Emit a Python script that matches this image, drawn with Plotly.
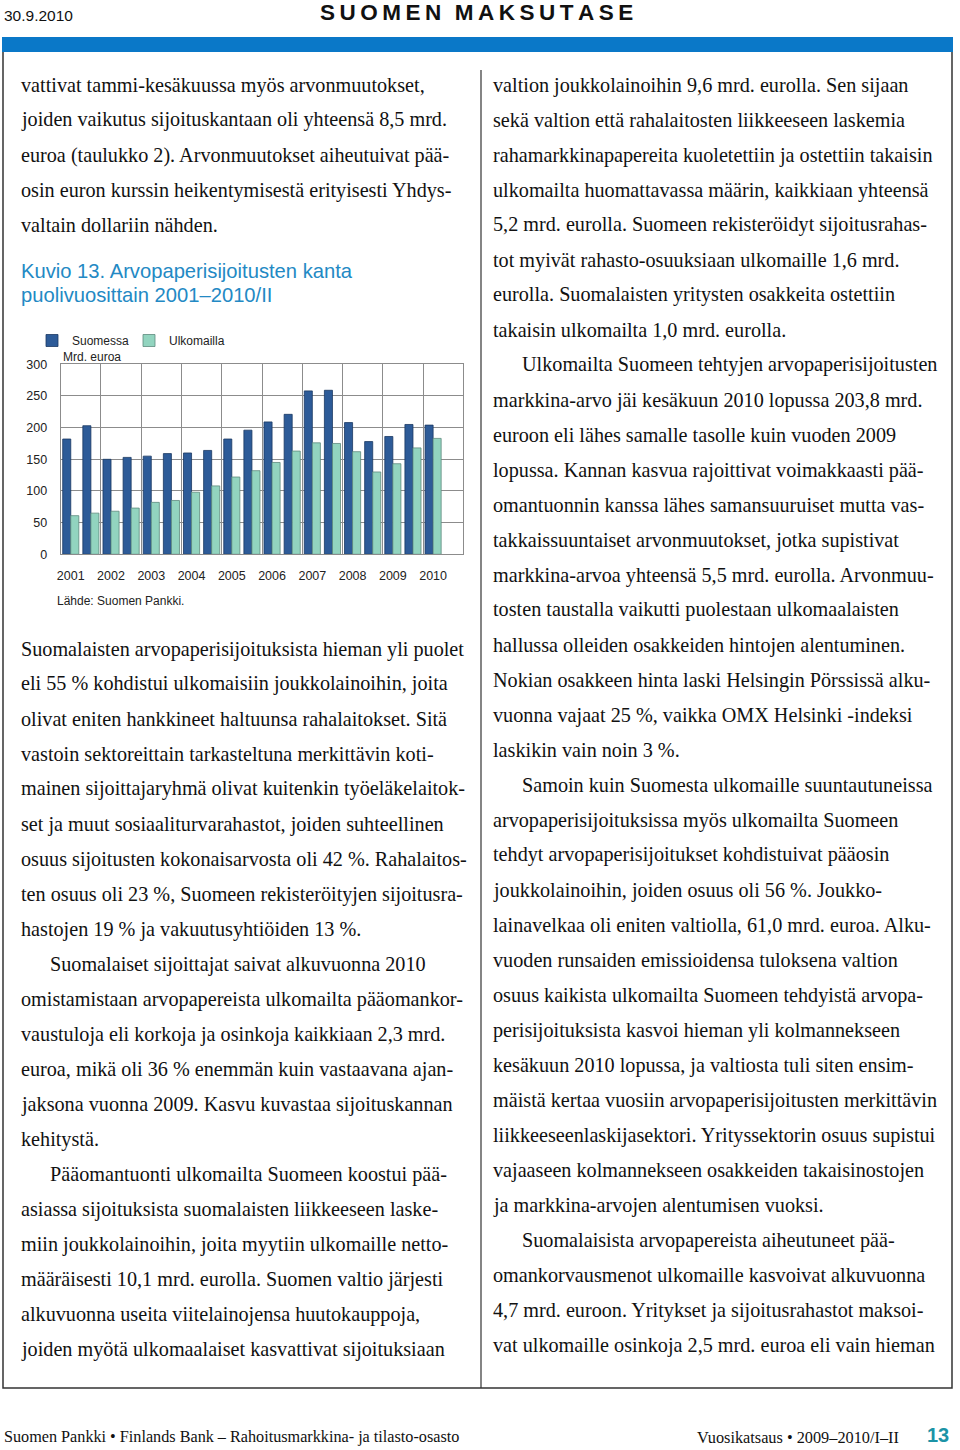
import plotly.graph_objects as go

# ==============================================================================
# --- DATA ---
# ==============================================================================

periods = [f"{y}/{h}" for y in range(2001, 2011) for h in ("I", "II")]
year_labels = [str(y) for y in range(2001, 2011)]

# Mrd. euroa, half-year stocks (2010/II not yet available)
suomessa = [182, 203, 150, 153, 155, 159, 160, 164, 182, 196,
            209, 221, 258, 259, 208, 178, 186, 205, 204, None]
ulkomailla = [61, 65, 68, 73, 82, 85, 98, 108, 122, 132,
              145, 163, 176, 175, 162, 130, 143, 168, 183, None]

y_ticks = [0, 50, 100, 150, 200, 250, 300]

left_top = [
    "vattivat tammi-kesäkuussa myös arvonmuutokset,",
    "joiden vaikutus sijoituskantaan oli yhteensä 8,5 mrd.",
    "euroa (taulukko 2). Arvonmuutokset aiheutuivat pää-",
    "osin euron kurssin heikentymisestä erityisesti Yhdys-",
    "valtain dollariin nähden.",
]

left_bottom = [
    "Suomalaisten arvopaperisijoituksista hieman yli puolet",
    "eli 55 % kohdistui ulkomaisiin joukkolainoihin, joita",
    "olivat eniten hankkineet haltuunsa rahalaitokset. Sitä",
    "vastoin sektoreittain tarkasteltuna merkittävin koti-",
    "mainen sijoittajaryhmä olivat kuitenkin työeläkelaitok-",
    "set ja muut sosiaaliturvarahastot, joiden suhteellinen",
    "osuus sijoitusten kokonaisarvosta oli 42 %. Rahalaitos-",
    "ten osuus oli 23 %, Suomeen rekisteröityjen sijoitusra-",
    "hastojen 19 % ja vakuutusyhtiöiden 13 %.",
    "Suomalaiset sijoittajat saivat alkuvuonna 2010",
    "omistamistaan arvopapereista ulkomailta pääomankor-",
    "vaustuloja eli korkoja ja osinkoja kaikkiaan 2,3 mrd.",
    "euroa, mikä oli 36 % enemmän kuin vastaavana ajan-",
    "jaksona vuonna 2009. Kasvu kuvastaa sijoituskannan",
    "kehitystä.",
    "Pääomantuonti ulkomailta Suomeen koostui pää-",
    "asiassa sijoituksista suomalaisten liikkeeseen laske-",
    "miin joukkolainoihin, joita myytiin ulkomaille netto-",
    "määräisesti 10,1 mrd. eurolla. Suomen valtio järjesti",
    "alkuvuonna useita viitelainojensa huutokauppoja,",
    "joiden myötä ulkomaalaiset kasvattivat sijoituksiaan",
]
left_bottom_indent = [9, 15]

right_col = [
    "valtion joukkolainoihin 9,6 mrd. eurolla. Sen sijaan",
    "sekä valtion että rahalaitosten liikkeeseen laskemia",
    "rahamarkkinapapereita kuoletettiin ja ostettiin takaisin",
    "ulkomailta huomattavassa määrin, kaikkiaan yhteensä",
    "5,2 mrd. eurolla. Suomeen rekisteröidyt sijoitusrahas-",
    "tot myivät rahasto-osuuksiaan ulkomaille 1,6 mrd.",
    "eurolla. Suomalaisten yritysten osakkeita ostettiin",
    "takaisin ulkomailta 1,0 mrd. eurolla.",
    "Ulkomailta Suomeen tehtyjen arvopaperisijoitusten",
    "markkina-arvo jäi kesäkuun 2010 lopussa 203,8 mrd.",
    "euroon eli lähes samalle tasolle kuin vuoden 2009",
    "lopussa. Kannan kasvua rajoittivat voimakkaasti pää-",
    "omantuonnin kanssa lähes samansuuruiset mutta vas-",
    "takkaissuuntaiset arvonmuutokset, jotka supistivat",
    "markkina-arvoa yhteensä 5,5 mrd. eurolla. Arvonmuu-",
    "tosten taustalla vaikutti puolestaan ulkomaalaisten",
    "hallussa olleiden osakkeiden hintojen alentuminen.",
    "Nokian osakkeen hinta laski Helsingin Pörssissä alku-",
    "vuonna vajaat 25 %, vaikka OMX Helsinki -indeksi",
    "laskikin vain noin 3 %.",
    "Samoin kuin Suomesta ulkomaille suuntautuneissa",
    "arvopaperisijoituksissa myös ulkomailta Suomeen",
    "tehdyt arvopaperisijoitukset kohdistuivat pääosin",
    "joukkolainoihin, joiden osuus oli 56 %. Joukko-",
    "lainavelkaa oli eniten valtiolla, 61,0 mrd. euroa. Alku-",
    "vuoden runsaiden emissioidensa tuloksena valtion",
    "osuus kaikista ulkomailta Suomeen tehdyistä arvopa-",
    "perisijoituksista kasvoi hieman yli kolmannekseen",
    "kesäkuun 2010 lopussa, ja valtiosta tuli siten ensim-",
    "mäistä kertaa vuosiin arvopaperisijoitusten merkittävin",
    "liikkeeseenlaskijasektori. Yrityssektorin osuus supistui",
    "vajaaseen kolmannekseen osakkeiden takaisinostojen",
    "ja markkina-arvojen alentumisen vuoksi.",
    "Suomalaisista arvopapereista aiheutuneet pää-",
    "omankorvausmenot ulkomaille kasvoivat alkuvuonna",
    "4,7 mrd. euroon. Yritykset ja sijoitusrahastot maksoi-",
    "vat ulkomaille osinkoja 2,5 mrd. euroa eli vain hieman",
]
right_indent = [8, 20, 33]

# ==============================================================================
# --- STYLE ---
# ==============================================================================

W, H = 960, 1450
COLORS = {
    'suomessa': '#2D5B98',
    'suomessa_edge': '#1B3862',
    'ulkomailla': '#92D4BF',
    'ulkomailla_edge': '#5E8A7E',
    'grid': '#8C8C8C',
    'heading': '#2389C4',
    'band': '#0A78C8',
    'page_no': '#1C93A6',
    'text': '#111111',
}
SERIF = "Liberation Serif, Times New Roman, serif"
SANS = "Liberation Sans, Arial, sans-serif"
BODY_SIZE = 20.2
LINE_H = 35


def px_x(x):
    return x / W


def px_y(y):
    return 1 - y / H


def text_at(x, y, text, size=BODY_SIZE, family=SERIF, color=COLORS['text'],
            anchor="left", **kw):
    return dict(xref="paper", yref="paper", x=px_x(x), y=px_y(y), text=text,
                showarrow=False, xanchor=anchor, yanchor="middle",
                font=dict(family=family, size=size, color=color),
                borderpad=0, **kw)


# ==============================================================================
# --- CHART ---
# ==============================================================================

xs = list(range(len(periods)))
year_pos = [periods.index(f"{y}/I") for y in year_labels]

fig = go.Figure()
fig.add_trace(go.Bar(
    x=xs, y=suomessa, name="Suomessa",
    marker=dict(color=COLORS['suomessa'],
                line=dict(color=COLORS['suomessa_edge'], width=0.8)),
    customdata=periods, hovertemplate="%{customdata}: %{y}<extra>Suomessa</extra>",
))
fig.add_trace(go.Bar(
    x=xs, y=ulkomailla, name="Ulkomailla",
    marker=dict(color=COLORS['ulkomailla'],
                line=dict(color=COLORS['ulkomailla_edge'], width=0.8)),
    customdata=periods, hovertemplate="%{customdata}: %{y}<extra>Ulkomailla</extra>",
))

plot_l, plot_r = 60.7, 463.3
plot_t, plot_b = 364.3, 554.3
x_dom = [px_x(plot_l), px_x(plot_r)]
y_dom = [px_y(plot_b), px_y(plot_t)]
x_range = [-0.5, len(periods) - 0.5]

fig.update_layout(
    width=W, height=H,
    margin=dict(l=0, r=0, t=0, b=0, autoexpand=False),
    paper_bgcolor="white", plot_bgcolor="white",
    barmode="group", bargap=0.2, bargroupgap=0,
    font=dict(family=SANS, size=12, color="#222222"),
    showlegend=True,
    legend=dict(orientation="h", x=px_x(32), y=px_y(326), xanchor="left", yanchor="top",
                font=dict(family=SANS, size=12, color="#222222"),
                itemwidth=30, entrywidth=52, bgcolor="rgba(0,0,0,0)",
                tracegroupgap=0),
    xaxis=dict(domain=x_dom, range=x_range, tick0=-0.5, dtick=2,
               showticklabels=False, showgrid=True, gridcolor=COLORS['grid'],
               gridwidth=1, showline=True, linecolor=COLORS['grid'], mirror=True,
               zeroline=False, ticks="", automargin=False),
    xaxis2=dict(domain=x_dom, range=x_range, overlaying="x", anchor="y",
                tickmode="array", tickvals=year_pos, ticktext=year_labels,
                showgrid=False, showline=False, zeroline=False, ticks="",
                ticklabelstandoff=12, automargin=False,
                tickfont=dict(family=SANS, size=12.5, color="#222222")),
    yaxis=dict(domain=y_dom, range=[0, 300], tickmode="array", tickvals=y_ticks,
               showgrid=True, gridcolor=COLORS['grid'], gridwidth=1,
               showline=True, linecolor=COLORS['grid'], mirror=True,
               zeroline=False, ticks="", ticklabelstandoff=10, automargin=False,
               tickfont=dict(family=SANS, size=12.5, color="#222222")),
)
# empty trace so the year-label axis is drawn
fig.add_trace(go.Scatter(x=[], y=[], xaxis="x2", yaxis="y", showlegend=False,
                         hoverinfo="skip"))

# ==============================================================================
# --- PAGE DECORATION ---
# ==============================================================================

shapes = [
    # blue band
    dict(type="rect", xref="paper", yref="paper", x0=px_x(2), x1=px_x(953),
         y0=px_y(52), y1=px_y(37), fillcolor=COLORS['band'], line=dict(width=0)),
    # outer frame (below band)
    dict(type="path", xref="paper", yref="paper",
         path=(f"M {px_x(3)} {px_y(52)} L {px_x(3)} {px_y(1388)} "
               f"L {px_x(952)} {px_y(1388)} L {px_x(952)} {px_y(52)}"),
         line=dict(color="#333333", width=1.5)),
    # column divider
    dict(type="line", xref="paper", yref="paper", x0=px_x(481), x1=px_x(481),
         y0=px_y(70), y1=px_y(1388), line=dict(color="#333333", width=1.2)),
]

header = "\u2009\u2009\u2009".join("\u2009".join(w) for w in "SUOMEN MAKSUTASE".split())

ann = []
ann.append(text_at(3, 15, "30.9.2010", size=15.5, family=SANS, color="#111111"))
ann.append(text_at(476, 13, f"<b>{header}</b>", size=22.5, family=SANS,
                   color="#111111", anchor="center"))

for i, line in enumerate(left_top):
    ann.append(text_at(20, 85 + LINE_H * i, line))

ann.append(text_at(20, 271, "Kuvio 13. Arvopaperisijoitusten kanta",
                   size=20.2, family=SANS, color=COLORS['heading']))
ann.append(text_at(20, 295, "puolivuosittain 2001\u20132010/II",
                   size=20.2, family=SANS, color=COLORS['heading']))

ann.append(text_at(62, 357, "Mrd. euroa", size=12, family=SANS, color="#222222"))
ann.append(text_at(56, 601, "Lähde: Suomen Pankki.", size=12, family=SANS, color="#222222"))

for i, line in enumerate(left_bottom):
    x = 49 if i in left_bottom_indent else 20
    ann.append(text_at(x, 649 + LINE_H * i, line))

for i, line in enumerate(right_col):
    x = 521 if i in right_indent else 492
    ann.append(text_at(x, 85 + LINE_H * i, line))

ann.append(text_at(3, 1437, "Suomen Pankki \u2022 Finlands Bank \u2013 Rahoitusmarkkina- ja tilasto-osasto",
                   size=16.2, color="#111111"))
ann.append(text_at(900, 1437, "Vuosikatsaus \u2022 2009\u20132010/I\u2013II",
                   size=16.3, color="#111111", anchor="right"))
ann.append(text_at(950, 1435, "<b>13</b>", size=20, family=SANS,
                   color=COLORS['page_no'], anchor="right"))

fig.update_layout(shapes=shapes, annotations=ann)

fig.write_html(
    "out.html",
    config={"displayModeBar": False},
    post_script="document.body.style.margin='0';document.body.style.overflow='hidden';",
)
